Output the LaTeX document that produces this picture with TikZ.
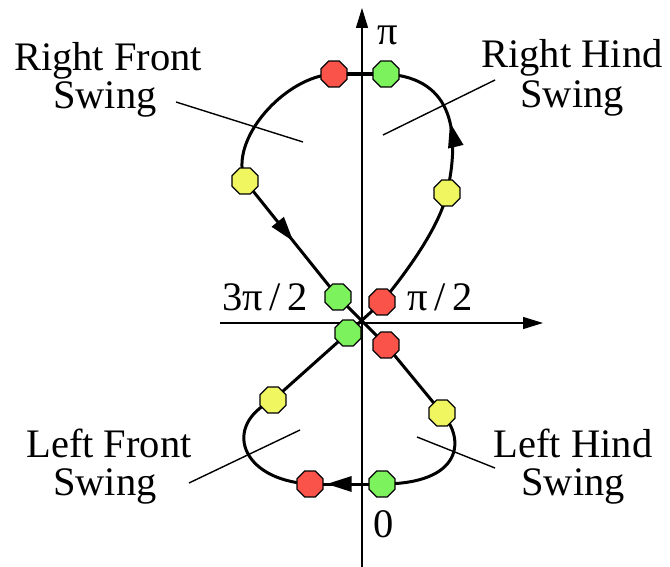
\documentclass[tikz,border=0pt]{standalone}
\usepackage{fontspec}
\setmainfont{Liberation Serif}
\usetikzlibrary{arrows.meta,shapes.geometric,decorations.markings}
\definecolor{ored}{RGB}{250,84,74}
\definecolor{ogreen}{RGB}{124,242,92}
\definecolor{oyel}{RGB}{240,246,96}
\tikzset{
  oct/.style={regular polygon, regular polygon sides=8, minimum size=28pt, inner sep=0pt, draw=black, line width=1.3pt},
  curve/.style={line width=3pt, line join=round},
  axis/.style={line width=1.4pt, -{Triangle[length=20pt,width=12pt]}},
  leader/.style={line width=1.4pt},
  lbl/.style={font=\fontsize{40.5}{42}\selectfont, inner sep=0pt},
  midarrow/.style={postaction={decorate}, decoration={markings, mark=at position #1 with {\arrow{Triangle[length=25pt,width=15pt]}}}}
}
\begin{document}
\begin{tikzpicture}[x=1pt,y=-1pt]
\useasboundingbox (0,0) rectangle (670,567);
% axes
\coordinate (vb) at (362,567);
\coordinate (vt) at (362,8);
\coordinate (hl) at (220,323);
\coordinate (hr) at (543,323);
\draw[axis] (vb) -- (vt);
\draw[axis] (hl) -- (hr);
% leader lines
\coordinate (rfa) at (176,102); \coordinate (rfb) at (303,142);
\coordinate (rha) at (495,80);  \coordinate (rhb) at (383,135);
\coordinate (lfa) at (189,483); \coordinate (lfb) at (300,430);
\coordinate (lha) at (417,437); \coordinate (lhb) at (495,468);
\draw[leader] (rfa) -- (rfb);
\draw[leader] (rha) -- (rhb);
\draw[leader] (lfa) -- (lfb);
\draw[leader] (lha) -- (lhb);
% curve points
\coordinate (tr) at (334,74);
\coordinate (tg) at (386,74);
\coordinate (ylu) at (245,181);
\coordinate (gul) at (338,297);
\coordinate (rlr) at (386,345);
\coordinate (yrl) at (442,413);
\coordinate (bg) at (382,484);
\coordinate (br) at (310,484);
\coordinate (yll) at (273,400);
\coordinate (gll) at (348,333);
\coordinate (rur) at (382,302);
\coordinate (yru) at (447,193);
\draw[curve, line width=3.8pt] (tg) -- (tr);
\draw[curve] (tr) .. controls (285,76) and (228,140) .. (ylu);
\draw[curve, midarrow=0.52] (ylu) -- (gul);
\draw[curve] (gul) -- (rlr);
\draw[curve] (rlr) -- (yrl);
\draw[curve] (yrl) .. controls (466,440) and (462,484) .. (bg);
\draw[curve, midarrow=0.77] (bg) -- (br);
\draw[curve] (br) .. controls (240,480) and (222,425) .. (yll);
\draw[curve] (yll) -- (gll);
\draw[curve] (gll) -- (rur);
\draw[curve] (rur) .. controls (410,268) and (440,225) .. (yru);
\draw[curve, midarrow=0.45] (yru) .. controls (460,135) and (455,78) .. (tg);
% octagons
\node[oct, fill=ored] (ntr) at (tr) {};
\node[oct, fill=ogreen] (ntg) at (tg) {};
\node[oct, fill=oyel] (nylu) at (ylu) {};
\node[oct, fill=ogreen] (ngul) at (gul) {};
\node[oct, fill=ored] (nrlr) at (rlr) {};
\node[oct, fill=oyel] (nyrl) at (yrl) {};
\node[oct, fill=ogreen] (nbg) at (bg) {};
\node[oct, fill=ored] (nbr) at (br) {};
\node[oct, fill=oyel] (nyll) at (yll) {};
\node[oct, fill=ogreen] (ngll) at (gll) {};
\node[oct, fill=ored] (nrur) at (rur) {};
\node[oct, fill=oyel] (nyru) at (yru) {};
% labels
\node[lbl, anchor=base] (rf1) at (108,71) {Right Front};
\node[lbl, anchor=base] (rf2) at (105,109) {Swing};
\node[lbl, anchor=base] (rh1) at (572,68) {Right Hind};
\node[lbl, anchor=base] (rh2) at (572,108) {Swing};
\node[lbl, anchor=base] (lf1) at (109,457) {Left Front};
\node[lbl, anchor=base] (lf2) at (105,495) {Swing};
\node[lbl, anchor=base] (lh1) at (573,457) {Left Hind};
\node[lbl, anchor=base] (lh2) at (573,495) {Swing};
\node[lbl, anchor=base] (lpi) at (388,45) {π};
\node[lbl, anchor=base east] (l3pi) at (308,310) {3π\,/\,2};
\node[lbl, anchor=base west] (lpi2) at (407,310) {π\,/\,2};
\node[lbl, anchor=base] (lzero) at (384,537) {0};
\end{tikzpicture}
\end{document}
